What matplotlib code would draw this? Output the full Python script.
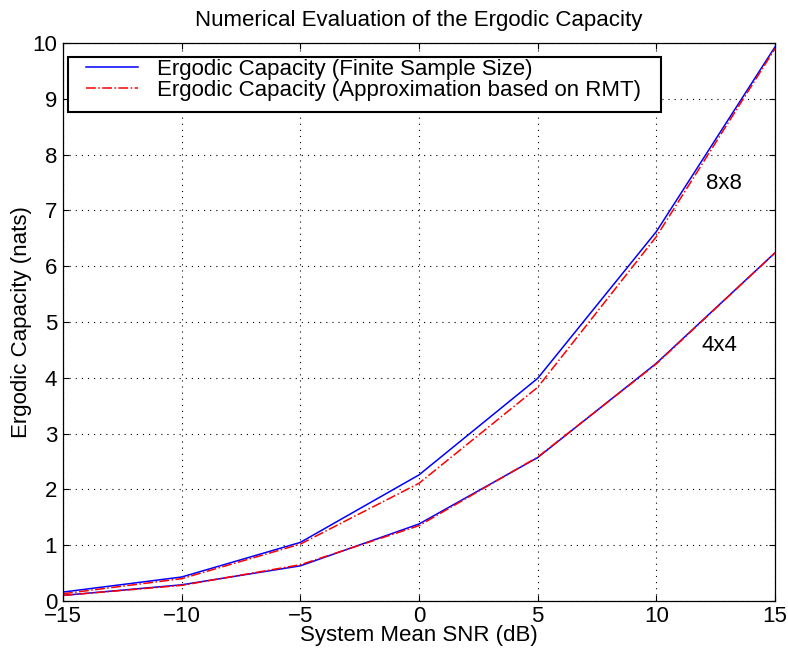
import numpy as np
import matplotlib.pyplot as plt
from matplotlib.patches import Rectangle

plt.rcParams['font.family'] = ['Liberation Sans', 'DejaVu Sans']

# -----------------------------
# Data
# -----------------------------
snr_db = [-15, -10, -5, 0, 5, 10, 15]

cap_8x8_finite = [0.16, 0.43, 1.05, 2.26, 3.99, 6.62, 9.93]
cap_8x8_rmt = [0.13, 0.40, 1.02, 2.11, 3.83, 6.53, 9.90]
cap_4x4_finite = [0.10, 0.29, 0.63, 1.38, 2.57, 4.26, 6.24]
cap_4x4_rmt = [0.10, 0.28, 0.65, 1.35, 2.58, 4.25, 6.24]

xtick_labels = ['\u221215', '\u221210', '\u22125', '0', '5', '10', '15']

W, H = 788, 655
fig = plt.figure(figsize=(W / 100, H / 100), dpi=100)
ax = fig.add_axes([63 / W, 1 - 601 / H, 712 / W, 558 / H])

ax.plot(snr_db, cap_8x8_finite, color='blue', lw=1.1,
        label='Ergodic Capacity (Finite Sample Size)')
ax.plot(snr_db, cap_8x8_rmt, color='red', lw=1.1, ls='-.',
        label='Ergodic Capacity (Approximation based on RMT)')
ax.plot(snr_db, cap_4x4_finite, color='blue', lw=1.1)
ax.plot(snr_db, cap_4x4_rmt, color='red', lw=1.1, ls='-.')

ax.text(12.85, 7.49, '8x8', fontsize=16, ha='center', va='center')
ax.text(12.64, 4.57, '4x4', fontsize=16, ha='center', va='center')

ax.set_xlim(-15, 15)
ax.set_ylim(0, 10)
ax.set_xticks(snr_db)
ax.set_xticklabels(xtick_labels)
ax.set_yticks(np.arange(0, 11, 1))
ax.tick_params(direction='in', labelsize=16, top=True, right=True,
               length=4.5, width=0.8)
ax.tick_params(axis='x', pad=3.5)
ax.tick_params(axis='y', pad=4.3)
for s in ax.spines.values():
    s.set_linewidth(0.9)
ax.grid(True, color='black', ls=(0, (1, 4.5)), lw=0.8)

ax.set_xlabel('System Mean SNR (dB)', fontsize=16, labelpad=-1)
ax.set_ylabel('Ergodic Capacity (nats)', fontsize=16, labelpad=0)
ax.set_title('Numerical Evaluation of the Ergodic Capacity', fontsize=16, pad=12)

# legend box drawn by hand (tight vertically, wide margins)
frame = Rectangle((68 / W, 1 - 112 / H), 593 / W, 55 / H, transform=fig.transFigure,
                  facecolor='white', edgecolor='black', lw=1.5, zorder=4)
ax.add_patch(frame)
ax.legend(loc='upper left', bbox_to_anchor=(86 / W, 1 - 59 / H),
          bbox_transform=fig.transFigure, fontsize=16, frameon=False,
          borderaxespad=0, borderpad=0, handlelength=2.35,
          handletextpad=0.86, labelspacing=0.0)

plt.savefig('out.png', dpi=100)
